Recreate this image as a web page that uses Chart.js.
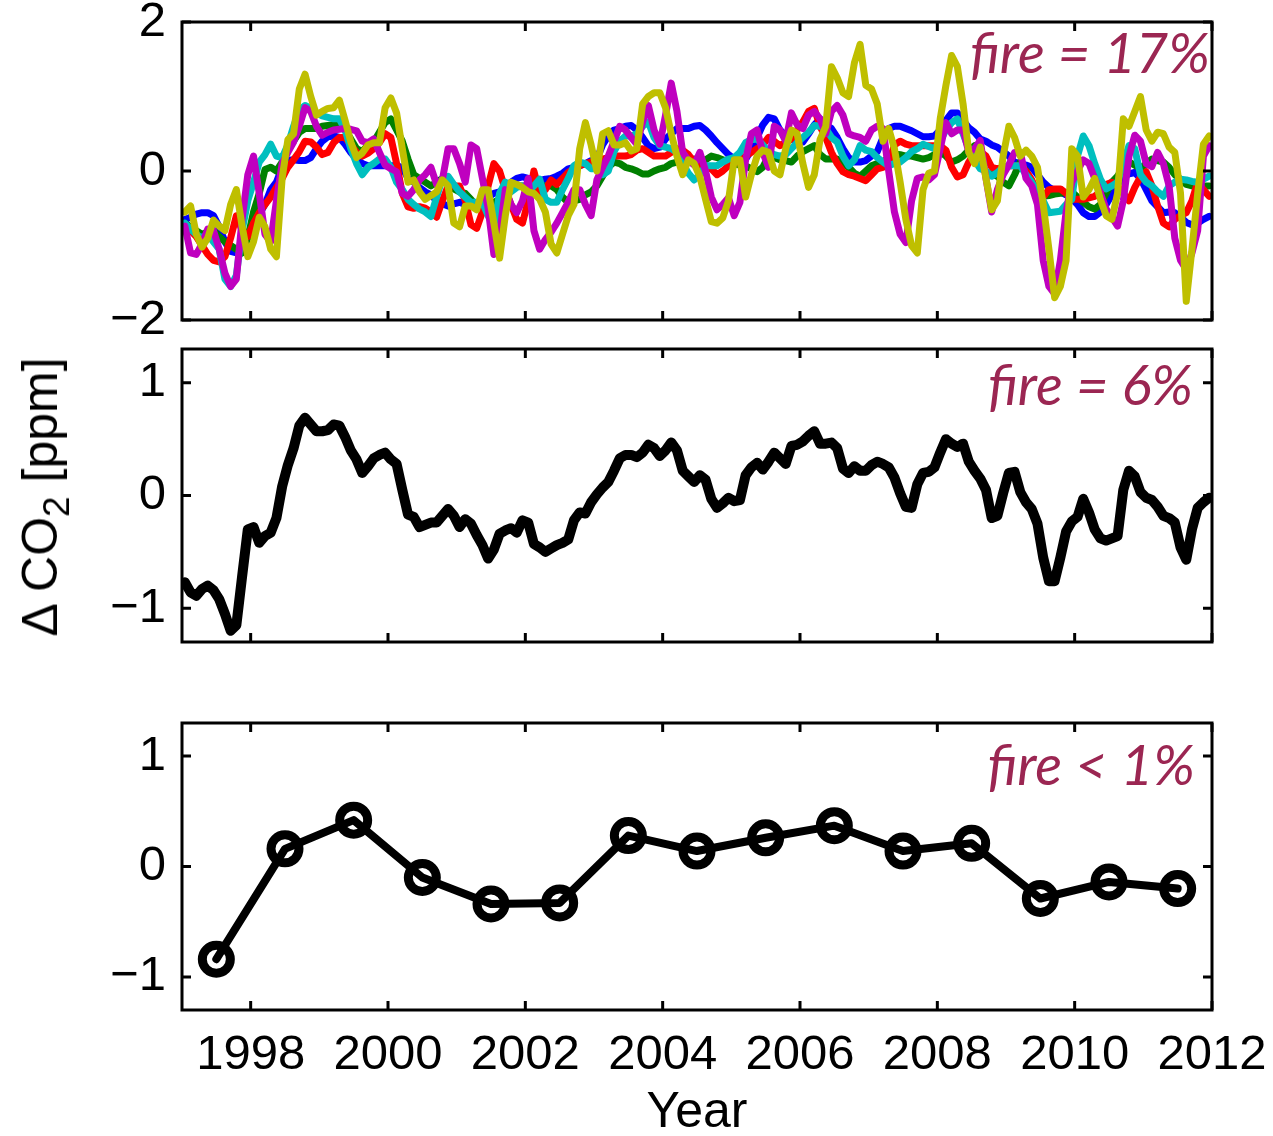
<!DOCTYPE html>
<html lang="en">
<head>
<meta charset="UTF-8">
<title>Delta CO2 anomalies by fire fraction</title>
<script src="https://cdn.jsdelivr.net/npm/chart.js"></script>
<style>
  body { margin: 0; background: #fff; }
  #wrap { position: relative; width: 1273px; height: 1136px; overflow: hidden; background: #fff; }
  #wrap canvas { position: absolute; left: 0; }
  #ylab { position: absolute; left: 40px; top: 497px; transform: translate(-50%, -50%) rotate(-90deg);
          font: 50px "Liberation Sans", Arial, sans-serif; white-space: nowrap; color: #000; }
  #ylab sub { font-size: 37px; vertical-align: -12px; line-height: 0; }
</style>
</head>
<body>
<div id="wrap">
  <canvas id="panelTop" width="1273" height="340" style="top:0px"></canvas>
  <canvas id="panelMid" width="1273" height="360" style="top:340px"></canvas>
  <canvas id="panelBot" width="1273" height="436" style="top:700px"></canvas>
  <div id="ylab">Δ CO<sub>2</sub> [ppm]</div>
</div>
<script>
const yearTicks = [1998, 2000, 2002, 2004, 2006, 2008, 2010, 2012];
const topTicks = [-2, 0, 2];
const lowTicks = [-1, 0, 1];
const fireNotes = ['fire = 17%', 'fire = 6%', 'fire < 1%'];

// monthly anomalies (ppm), one row per year 1997..2011
const runBlue = [
  -0.65, -0.62, -0.58, -0.56, -0.56, -0.60, -0.75, -0.95, -1.08, -1.10, -1.05, -0.85,
  -0.70, -0.58, -0.45, -0.25, -0.15, 0.05, 0.14, 0.15, 0.14, 0.14, 0.18, 0.30,
  0.40, 0.46, 0.47, 0.45, 0.36, 0.25, 0.16, 0.10, 0.07, 0.07, 0.07, 0.07,
  0.07, 0.07, 0.05, -0.10, -0.15, -0.22, -0.28, -0.32, -0.40, -0.44, -0.47, -0.44,
  -0.42, -0.45, -0.47, -0.45, -0.38, -0.35, -0.30, -0.28, -0.22, -0.15, -0.10, -0.08,
  -0.10, -0.15, -0.13, -0.11, -0.10, -0.07, -0.03, 0.03, 0.05, 0.07, 0.10, 0.14,
  0.16, 0.35, 0.47, 0.55, 0.57, 0.60, 0.61, 0.55, 0.45, 0.34, 0.30, 0.32,
  0.43, 0.50, 0.57, 0.57, 0.57, 0.60, 0.61, 0.55, 0.47, 0.38, 0.30, 0.22,
  0.16, 0.17, 0.16, 0.28, 0.45, 0.62, 0.72, 0.70, 0.55, 0.47, 0.43, 0.40,
  0.39, 0.50, 0.62, 0.70, 0.62, 0.57, 0.45, 0.30, 0.18, 0.12, 0.12, 0.14,
  0.20, 0.26, 0.45, 0.57, 0.60, 0.60, 0.57, 0.54, 0.50, 0.46, 0.46, 0.47,
  0.55, 0.68, 0.78, 0.78, 0.68, 0.58, 0.52, 0.43, 0.40, 0.35, 0.32, 0.26,
  0.20, 0.12, 0.10, 0.08, 0.05, -0.05, -0.15, -0.22, -0.26, -0.28, -0.32, -0.37,
  -0.45, -0.56, -0.61, -0.61, -0.55, -0.45, -0.32, -0.18, -0.07, -0.04, -0.02, -0.10,
  -0.25, -0.40, -0.48, -0.56, -0.55, -0.56, -0.62, -0.69, -0.72, -0.70, -0.65, -0.61
];
const runGreen = [
  -0.70, -0.75, -0.80, -0.85, -0.82, -0.80, -0.88, -0.95, -1.00, -1.05, -1.10, -0.90,
  -0.55, -0.30, 0.02, 0.05, 0.00, 0.12, 0.32, 0.40, 0.52, 0.57, 0.57, 0.57,
  0.60, 0.61, 0.62, 0.64, 0.55, 0.43, 0.30, 0.26, 0.35, 0.39, 0.52, 0.65,
  0.70, 0.55, 0.40, 0.16, -0.05, -0.10, -0.15, -0.20, -0.15, -0.10, -0.18, -0.24,
  -0.28, -0.30, -0.38, -0.48, -0.51, -0.45, -0.42, -0.38, -0.32, -0.24, -0.20, -0.20,
  -0.22, -0.25, -0.22, -0.20, -0.20, -0.25, -0.35, -0.42, -0.40, -0.38, -0.32, -0.28,
  -0.20, -0.07, 0.05, 0.12, 0.10, 0.05, 0.03, 0.00, -0.04, -0.04, 0.00, 0.03,
  0.05, 0.10, 0.12, 0.10, 0.14, 0.16, 0.12, 0.15, 0.20, 0.18, 0.15, 0.12,
  0.10, 0.08, 0.07, 0.03, -0.01, 0.05, 0.20, 0.18, 0.15, 0.14, 0.12, 0.20,
  0.26, 0.30, 0.34, 0.22, 0.16, 0.16, 0.16, 0.10, 0.05, -0.03, -0.07, 0.00,
  0.07, 0.10, 0.12, 0.18, 0.23, 0.22, 0.20, 0.20, 0.18, 0.16, 0.18, 0.22,
  0.26, 0.20, 0.12, 0.15, 0.20, 0.28, 0.34, 0.10, -0.01, -0.05, -0.07, -0.15,
  -0.20, -0.05, 0.12, 0.00, -0.15, -0.25, -0.34, -0.33, -0.31, -0.30, -0.29, -0.28,
  -0.35, -0.42, -0.48, -0.51, -0.45, -0.30, -0.15, -0.07, 0.05, 0.12, 0.08, 0.03,
  0.10, 0.16, 0.14, 0.12, 0.05, -0.05, -0.11, -0.18, -0.20, -0.20, -0.20, -0.20
];
const runRed = [
  -0.75, -0.80, -0.88, -1.00, -1.12, -1.20, -1.22, -1.15, -0.90, -0.60, -0.80, -0.88,
  -0.70, -0.56, -0.45, -0.35, -0.22, -0.10, 0.05, 0.15, 0.26, 0.40, 0.39, 0.32,
  0.22, 0.25, 0.38, 0.45, 0.45, 0.35, 0.25, 0.20, 0.24, 0.30, 0.38, 0.50,
  0.45, 0.10, -0.30, -0.48, -0.50, -0.48, -0.50, -0.55, -0.62, -0.40, -0.20, -0.20,
  -0.20, -0.40, -0.72, -0.77, -0.55, -0.20, 0.10, 0.00, -0.25, -0.45, -0.65, -0.70,
  -0.40, 0.00, -0.30, -0.25, -0.12, -0.18, -0.10, -0.02, 0.03, 0.07, 0.10, 0.12,
  0.14, 0.16, 0.18, 0.20, 0.20, 0.20, 0.22, 0.28, 0.30, 0.25, 0.20, 0.20,
  0.20, 0.25, 0.30, 0.28, 0.22, 0.12, 0.08, 0.05, 0.03, -0.05, 0.00, 0.07,
  0.10, 0.15, 0.20, 0.25, 0.30, 0.35, 0.45, 0.40, 0.34, 0.38, 0.43, 0.55,
  0.66, 0.80, 0.84, 0.60, 0.45, 0.25, 0.10, -0.01, -0.05, -0.07, -0.10, -0.13,
  -0.05, 0.03, 0.05, 0.10, 0.35, 0.40, 0.36, 0.34, 0.34, 0.34, 0.34, 0.34,
  0.34, 0.28, 0.05, -0.08, -0.05, 0.12, 0.24, 0.26, 0.20, 0.05, 0.03, 0.05,
  0.07, 0.07, 0.07, 0.00, -0.12, -0.30, -0.35, -0.25, -0.24, -0.24, -0.30, -0.38,
  -0.38, -0.38, -0.36, -0.34, -0.28, -0.18, -0.15, -0.20, -0.30, -0.40, -0.22, -0.08,
  -0.01, -0.20, -0.47, -0.70, -0.75, -0.65, -0.60, -0.56, -0.40, -0.15, -0.25, -0.34
];
const runCyan = [
  -0.70, -0.78, -0.85, -0.90, -0.85, -0.95, -1.05, -1.45, -1.55, -1.40, -0.80, -0.40,
  -0.15, 0.12, 0.22, 0.36, 0.20, 0.18, 0.35, 0.60, 0.82, 0.88, 0.84, 0.78,
  0.74, 0.72, 0.70, 0.70, 0.55, 0.30, 0.10, -0.05, 0.05, 0.10, 0.16, 0.16,
  0.05, -0.15, -0.25, -0.38, -0.45, -0.51, -0.55, -0.61, -0.35, -0.10, -0.07, -0.18,
  -0.28, -0.35, -0.42, -0.42, -0.42, -0.60, -0.74, -0.30, -0.15, -0.28, -0.22, -0.20,
  -0.28, -0.20, -0.11, -0.38, -0.42, -0.42, -0.25, -0.10, 0.07, 0.12, 0.10, 0.03,
  0.03, -0.05, 0.00, 0.26, 0.40, 0.47, 0.47, 0.50, 0.60, 0.66, 0.45, 0.34,
  0.32, 0.30, 0.25, 0.10, -0.03, -0.12, -0.05, 0.07, 0.07, 0.07, 0.12, 0.16,
  0.18, 0.25, 0.38, 0.42, 0.43, 0.35, 0.26, 0.22, 0.20, 0.22, 0.30, 0.38,
  0.45, 0.52, 0.61, 0.60, 0.57, 0.45, 0.39, 0.20, 0.07, 0.15, 0.34, 0.28,
  0.26, 0.18, 0.12, 0.07, 0.10, 0.12, 0.18, 0.26, 0.30, 0.36, 0.33, 0.30,
  0.40, 0.55, 0.65, 0.70, 0.50, 0.30, 0.15, 0.03, 0.00, -0.07, -0.02, 0.05,
  0.07, 0.07, 0.07, -0.05, -0.15, -0.28, -0.40, -0.56, -0.55, -0.54, -0.45, -0.38,
  0.20, 0.47, 0.34, 0.10, -0.11, -0.24, -0.20, -0.15, 0.10, 0.34, 0.30, -0.05,
  -0.15, -0.20, -0.28, -0.34, -0.20, -0.15, -0.11, -0.12, -0.14, -0.15, -0.11, -0.07
];
const runMagenta = [
  -0.74, -1.10, -1.12, -0.98, -0.78, -0.80, -1.05, -1.37, -1.55, -1.45, -0.65, -0.05,
  0.20, -0.30, -0.85, -0.95, -0.40, 0.10, 0.25, 0.39, 0.60, 0.85, 0.80, 0.60,
  0.48, 0.52, 0.55, 0.56, 0.57, 0.56, 0.54, 0.40, 0.38, 0.43, 0.25, 0.08,
  0.03, -0.01, -0.30, -0.34, -0.25, -0.12, -0.05, 0.05, -0.18, -0.12, 0.30, 0.30,
  0.10, -0.15, 0.35, 0.30, -0.10, -0.50, -1.12, -0.85, -0.25, -0.45, -0.56, -0.40,
  -0.10, -0.80, -1.05, -0.92, -0.82, -0.70, -0.56, -0.42, -0.25, -0.25, -0.45, -0.60,
  -0.12, 0.05, 0.20, 0.40, 0.60, 0.55, 0.45, 0.36, 0.66, 0.88, 0.55, 0.36,
  0.75, 1.18, 0.80, 0.25, 0.14, 0.08, 0.25, 0.00, -0.35, -0.52, -0.45, -0.36,
  -0.60, -0.42, 0.15, 0.50, 0.55, 0.25, 0.05, 0.60, 0.55, 0.40, 0.78, 0.62,
  0.57, 0.75, 0.80, 0.70, 0.50, 0.80, 0.88, 0.75, 0.50, 0.47, 0.45, 0.40,
  0.55, 0.60, 0.57, 0.00, -0.55, -0.85, -0.96, -0.40, -0.10, -0.08, -0.12, -0.05,
  0.30, 0.65, 0.50, 0.55, 0.55, 0.25, 0.30, 0.41, -0.10, -0.55, -0.25, -0.05,
  0.08, 0.25, 0.25, -0.10, -0.20, -0.45, -1.20, -1.55, -1.65, -1.20, -0.55, -0.15,
  0.00, 0.15, 0.10, -0.10, -0.30, -0.51, -0.62, -0.74, -0.40, 0.20, 0.48, 0.40,
  0.10, 0.06, 0.25, 0.10, -0.20, -0.90, -1.20, -1.32, -1.10, -0.80, 0.20, 0.34
];
const runYellow = [
  -0.55, -0.47, -0.85, -1.02, -0.90, -0.66, -0.74, -0.80, -0.45, -0.25, -0.74, -1.15,
  -0.95, -0.62, -0.75, -1.05, -1.15, -0.10, 0.42, 0.50, 1.10, 1.30, 1.00, 0.75,
  0.80, 0.84, 0.85, 0.95, 0.68, 0.39, 0.18, 0.24, 0.35, 0.38, 0.38, 0.85,
  0.98, 0.78, 0.30, -0.15, -0.12, -0.28, -0.38, -0.33, -0.28, -0.12, -0.20, -0.70,
  -0.75, -0.47, -0.47, -0.52, -0.25, -0.25, -0.70, -1.17, -0.60, -0.15, -0.18, -0.22,
  -0.28, -0.30, -0.38, -0.55, -0.98, -1.10, -0.85, -0.60, -0.45, 0.30, 0.65, 0.35,
  0.00, 0.50, 0.54, 0.35, 0.35, 0.38, 0.27, 0.30, 0.90, 1.00, 1.05, 1.05,
  0.85, 0.50, 0.20, -0.05, 0.15, 0.10, -0.08, -0.38, -0.68, -0.70, -0.63, -0.40,
  0.15, 0.15, -0.35, -0.05, 0.20, 0.28, 0.25, 0.00, -0.05, 0.30, 0.55, 0.50,
  0.10, -0.22, -0.05, 0.42, 0.60, 1.40, 1.25, 1.05, 1.00, 1.45, 1.70, 1.15,
  1.10, 0.90, 0.40, 0.57, 0.30, -0.15, -0.65, -1.00, -1.10, -0.25, -0.03, 0.00,
  0.70, 1.15, 1.55, 1.40, 0.90, 0.25, 0.10, 0.32, -0.10, -0.52, -0.40, 0.20,
  0.60, 0.45, 0.20, 0.28, 0.20, 0.05, -0.45, -1.05, -1.70, -1.55, -1.20, 0.30,
  0.20, -0.35, -0.25, -0.10, -0.38, -0.60, -0.65, -0.30, 0.70, 0.60, 0.80, 1.00,
  0.55, 0.40, 0.52, 0.50, 0.32, 0.25, -0.30, -1.75, -1.05, -0.30, 0.36, 0.47
];

// single run, fire share 6%
const runFireMid = [
  -0.77, -0.86, -0.89, -0.83, -0.80, -0.84, -0.92, -1.05, -1.20, -1.15, -0.72, -0.30,
  -0.28, -0.42, -0.36, -0.33, -0.20, 0.08, 0.27, 0.42, 0.62, 0.69, 0.63, 0.57,
  0.57, 0.58, 0.63, 0.62, 0.52, 0.40, 0.32, 0.20, 0.26, 0.33, 0.36, 0.38,
  0.32, 0.28, 0.05, -0.17, -0.19, -0.28, -0.26, -0.24, -0.24, -0.18, -0.12, -0.18,
  -0.28, -0.21, -0.25, -0.35, -0.44, -0.56, -0.48, -0.34, -0.31, -0.29, -0.33, -0.22,
  -0.24, -0.43, -0.46, -0.50, -0.47, -0.44, -0.42, -0.39, -0.22, -0.15, -0.16, -0.06,
  0.01, 0.07, 0.12, 0.22, 0.33, 0.36, 0.36, 0.34, 0.38, 0.45, 0.42, 0.35,
  0.40, 0.47, 0.40, 0.22, 0.17, 0.12, 0.18, 0.14, -0.03, -0.11, -0.07, -0.02,
  -0.05, -0.04, 0.18, 0.25, 0.29, 0.23, 0.30, 0.38, 0.33, 0.28, 0.44, 0.45,
  0.48, 0.53, 0.57, 0.46, 0.46, 0.47, 0.42, 0.24, 0.20, 0.26, 0.22, 0.22,
  0.27, 0.30, 0.28, 0.25, 0.16, 0.02, -0.10, -0.11, 0.10, 0.20, 0.21, 0.25,
  0.38, 0.50, 0.46, 0.43, 0.46, 0.30, 0.22, 0.15, 0.05, -0.20, -0.18, 0.02,
  0.20, 0.21, 0.03, -0.06, -0.12, -0.25, -0.55, -0.76, -0.76, -0.55, -0.32, -0.23,
  -0.19, -0.03, -0.15, -0.30, -0.38, -0.40, -0.38, -0.36, 0.05, 0.22, 0.17, 0.03,
  -0.02, -0.04, -0.10, -0.18, -0.20, -0.24, -0.46, -0.57, -0.30, -0.11, -0.06, -0.02
];

// annual means, fire share below 1%
const annualYears = [1997, 1998, 1999, 2000, 2001, 2002, 2003, 2004, 2005, 2006, 2007, 2008, 2009, 2010, 2011];
const annualLow = [-0.84, 0.16, 0.42, -0.10, -0.34, -0.33, 0.28, 0.14, 0.26, 0.37, 0.14, 0.21, -0.29, -0.14, -0.20];

const fontFamily = '"Liberation Sans", Arial, Helvetica, sans-serif';
const tickFont = { family: fontFamily, size: 49, lineHeight: 0.8 };

const monthX = runFireMid.map((_, i) => 1997 + (i + 0.5) / 12);
const pairs = (xs, ys) => ys.map((v, i) => ({ x: xs[i], y: v }));
const minusText = v => (v < 0 ? '\u2212' + Math.abs(v) : String(v));

// closed box with inward tick marks on all four sides
const boxFrame = {
  id: 'boxFrame',
  afterDatasetsDraw(chart) {
    const { ctx, chartArea: a } = chart;
    const sx = chart.scales.x, sy = chart.scales.y;
    const len = 9;
    ctx.save();
    ctx.strokeStyle = '#000';
    ctx.lineWidth = 3;
    ctx.beginPath();
    sx.ticks.forEach(t => {
      const px = sx.getPixelForValue(t.value);
      ctx.moveTo(px, a.top); ctx.lineTo(px, a.top + len);
      ctx.moveTo(px, a.bottom); ctx.lineTo(px, a.bottom - len);
    });
    sy.ticks.forEach(t => {
      const py = sy.getPixelForValue(t.value);
      ctx.moveTo(a.left, py); ctx.lineTo(a.left + len, py);
      ctx.moveTo(a.right, py); ctx.lineTo(a.right - len, py);
    });
    ctx.stroke();
    ctx.strokeRect(a.left, a.top, a.right - a.left, a.bottom - a.top);
    ctx.restore();
  }
};

// panel note in the upper right corner
const fireNote = {
  id: 'fireNote',
  afterDatasetsDraw(chart, args, opts) {
    if (!opts.text) return;
    const { ctx, chartArea: a } = chart;
    ctx.save();
    ctx.font = 'italic 56px Lato, "Open Sans", sans-serif';
    ctx.fillStyle = '#9b2652';
    ctx.textAlign = 'right';
    ctx.textBaseline = 'alphabetic';
    ctx.fillText(opts.text, a.right - opts.dx, a.top + opts.dy);
    ctx.restore();
  }
};

function yAxis(min, max, values) {
  return {
    min: min, max: max,
    afterBuildTicks: s => { s.ticks = values.map(v => ({ value: v })); },
    afterFit: s => { s.width = 182; s.paddingTop = 0; s.paddingBottom = 0; },
    grid: { display: false, drawTicks: false },
    border: { display: false },
    ticks: { autoSkip: false, padding: 16, color: '#000', font: tickFont, callback: minusText }
  };
}

function xAxis(withLabels) {
  return {
    type: 'linear', min: 1997, max: 2012,
    afterBuildTicks: s => { s.ticks = yearTicks.map(v => ({ value: v })); },
    afterFit: s => { s.height = withLabels ? 126 : 0; s.paddingLeft = 0; s.paddingRight = 0; },
    grid: { display: false, drawTicks: false },
    border: { display: false },
    ticks: { display: withLabels, autoSkip: false, maxRotation: 0, padding: 26, color: '#000',
             font: tickFont, callback: v => String(v) },
    title: { display: withLabels, text: 'Year', color: '#000',
             font: { family: fontFamily, size: 50, lineHeight: 0.8 }, padding: { top: 0, bottom: 3 } }
  };
}

function lineSet(values, color, width) {
  return {
    data: pairs(monthX, values),
    borderColor: color, borderWidth: width,
    pointRadius: 0, pointHoverRadius: 0,
    borderJoinStyle: 'round', borderCapStyle: 'round',
    tension: 0, clip: 0
  };
}

function panel(id, datasets, yMin, yMax, yVals, withLabels, pad, note) {
  return new Chart(document.getElementById(id), {
    type: 'line',
    data: { datasets: datasets },
    options: {
      responsive: false, maintainAspectRatio: false, animation: false, events: [],
      layout: { padding: pad },
      scales: { x: xAxis(withLabels), y: yAxis(yMin, yMax, yVals) },
      plugins: { legend: { display: false }, tooltip: { enabled: false }, fireNote: note }
    },
    plugins: [boxFrame, fireNote]
  });
}

// first dataset is drawn last, so the yellow run sits on top
panel('panelTop', [
  lineSet(runYellow, '#bfbf00', 7),
  lineSet(runMagenta, '#bf00bf', 7),
  lineSet(runCyan, '#00bfbf', 7),
  lineSet(runRed, '#ff0000', 7),
  lineSet(runGreen, '#008000', 7),
  lineSet(runBlue, '#0000ff', 7)
], -2, 2, topTicks, false, { top: 22, right: 61, bottom: 20, left: 0 },
  { text: fireNotes[0], dx: 2, dy: 51 });

panel('panelMid', [lineSet(runFireMid, '#000', 10)], -1.3, 1.3, lowTicks, false,
  { top: 9, right: 61, bottom: 58, left: 0 }, { text: fireNotes[1], dx: 19, dy: 56 });

panel('panelBot', [{
  data: pairs(annualYears.map(y => y + 0.5), annualLow),
  borderColor: '#000', borderWidth: 8, tension: 0, clip: 0,
  borderJoinStyle: 'round', borderCapStyle: 'round',
  pointRadius: 14, pointHoverRadius: 14, pointBorderWidth: 9,
  pointBorderColor: '#000', pointBackgroundColor: 'rgba(0,0,0,0)'
}], -1.3, 1.3, lowTicks, true, { top: 16, right: 61, bottom: 0, left: 0 },
  { text: fireNotes[2], dx: 17, dy: 62 });
</script>
</body>
</html>
